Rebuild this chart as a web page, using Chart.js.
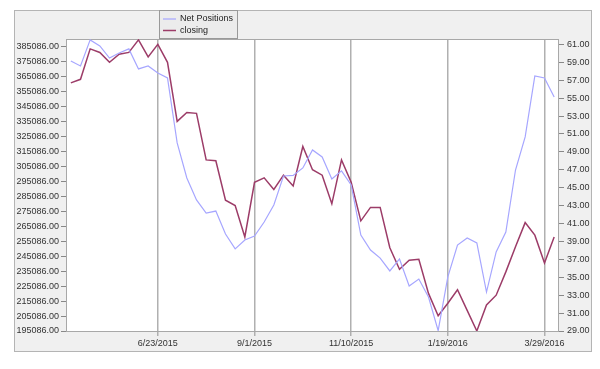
<!DOCTYPE html>
<html lang="en">
<head>
<meta charset="UTF-8">
<title>Net Positions vs closing</title>
<style>
  html, body { margin: 0; padding: 0; background: #fff; }
  #wrap { width: 600px; height: 369px; }
</style>
</head>
<body>
<div id="wrap"><canvas id="myChart" width="600" height="369"></canvas></div>
<script src="https://cdn.jsdelivr.net/npm/chart.js"></script>
<script>
// weekly dates (Tuesdays)
const weeks = [
  "4/21/2015","4/28/2015","5/5/2015","5/12/2015","5/19/2015","5/26/2015","6/2/2015","6/9/2015","6/16/2015","6/23/2015",
  "6/30/2015","7/7/2015","7/14/2015","7/21/2015","7/28/2015","8/4/2015","8/11/2015","8/18/2015","8/25/2015","9/1/2015",
  "9/8/2015","9/15/2015","9/22/2015","9/29/2015","10/6/2015","10/13/2015","10/20/2015","10/27/2015","11/3/2015","11/10/2015",
  "11/17/2015","11/24/2015","12/1/2015","12/8/2015","12/15/2015","12/22/2015","12/29/2015","1/5/2016","1/12/2016","1/19/2016",
  "1/26/2016","2/2/2016","2/9/2016","2/16/2016","2/23/2016","3/1/2016","3/8/2016","3/15/2016","3/22/2016","3/29/2016",
  "4/5/2016"
];

const netPositions = [
  375400, 372100, 389500, 385500, 377400, 380800, 383500, 370100, 372100, 367400,
  364100, 320700, 297300, 282600, 273900, 275200, 259900, 249900, 255900, 258500,
  267900, 279200, 298600, 299000, 304000, 316000, 311300, 296600, 302000, 292600,
  259200, 249200, 243800, 235200, 243200, 225100, 229800, 217800, 195300, 231200,
  252500, 257200, 253900, 221100, 247900, 261200, 302600, 324700, 365400, 364100,
  351400
];

const closing = [
  56.7, 57.1, 60.5, 60.1, 59.0, 59.9, 60.1, 61.5, 59.6, 61.0,
  59.0, 52.4, 53.4, 53.3, 48.1, 48.0, 43.6, 43.0, 39.5, 45.6,
  46.1, 44.8, 46.4, 45.2, 49.6, 47.0, 46.4, 43.2, 48.1, 45.6,
  41.3, 42.8, 42.8, 38.3, 35.9, 36.9, 37.0, 33.2, 30.7, 32.1,
  33.6, 31.3, 29.0, 31.9, 33.0, 35.6, 38.4, 41.1, 39.7, 36.6,
  39.5
];

const dateTicks = ["6/23/2015", "9/1/2015", "11/10/2015", "1/19/2016", "3/29/2016"];
const leftTicks = [195086, 205086, 215086, 225086, 235086, 245086, 255086, 265086, 275086, 285086,
  295086, 305086, 315086, 325086, 335086, 345086, 355086, 365086, 375086, 385086];
const rightTicks = [29, 31, 33, 35, 37, 39, 41, 43, 45, 47, 49, 51, 53, 55, 57, 59, 61];

Chart.defaults.font.family = '"Liberation Sans", Arial, sans-serif';
Chart.defaults.font.size = 9;
Chart.defaults.color = '#333';

// panel, plot frame and the little legend box
const framePlugin = {
  id: 'frame',
  beforeDraw(chart) {
    const c = chart.ctx, a = chart.chartArea;
    c.save();
    c.fillStyle = '#fff';
    c.fillRect(0, 0, chart.width, chart.height);
    c.fillStyle = '#f0f0f0';
    c.strokeStyle = '#b4b4b4';
    c.lineWidth = 1;
    c.fillRect(14.5, 10.5, 577, 341);
    c.strokeRect(14.5, 10.5, 577, 341);
    c.fillStyle = '#fff';
    c.fillRect(a.left, a.top, a.right - a.left, a.bottom - a.top);
    c.restore();
  },
  beforeDatasetsDraw(chart) {
    const c = chart.ctx, a = chart.chartArea;
    c.save();
    c.strokeStyle = '#a8a8a8';
    c.lineWidth = 1;
    c.strokeRect(a.left + 0.5, a.top + 0.5, a.right - a.left - 1, a.bottom - a.top);
    c.restore();
  },
  afterDraw(chart) {
    const c = chart.ctx;
    c.save();
    c.fillStyle = '#ececec';
    c.strokeStyle = '#999';
    c.lineWidth = 1;
    c.fillRect(159.5, 10.5, 78, 28);
    c.strokeRect(159.5, 10.5, 78, 28);
    c.font = '9px "Liberation Sans", Arial, sans-serif';
    c.textBaseline = 'middle';
    chart.data.datasets.forEach((ds, i) => {
      const y = 19 + i * 11.5;
      c.strokeStyle = ds.borderColor;
      c.lineWidth = ds.borderWidth;
      c.beginPath();
      c.moveTo(163, y);
      c.lineTo(176, y);
      c.stroke();
      c.fillStyle = '#222';
      c.fillText(ds.label, 180, y);
    });
    c.restore();
  }
};

const ctx = document.getElementById('myChart').getContext('2d');
new Chart(ctx, {
  type: 'line',
  data: {
    labels: weeks,
    datasets: [
      {
        label: 'Net Positions',
        data: netPositions,
        yAxisID: 'yLeft',
        borderColor: '#a6a6ff',
        borderWidth: 1.2,
        pointRadius: 0,
        tension: 0,
        fill: false
      },
      {
        label: 'closing',
        data: closing,
        yAxisID: 'yRight',
        borderColor: '#9c3c68',
        borderWidth: 1.5,
        pointRadius: 0,
        tension: 0,
        fill: false
      }
    ]
  },
  options: {
    responsive: false,
    animation: false,
    layout: { padding: { top: 39, left: 0, right: 0, bottom: 0 } },
    plugins: {
      legend: { display: false },
      tooltip: { enabled: false }
    },
    scales: {
      x: {
        type: 'category',
        offset: true,
        afterBuildTicks: s => { s.ticks = s.ticks.filter(t => dateTicks.includes(weeks[t.value])); },
        afterFit: s => { s.height = 38; },
        grid: { color: '#b0b0b0', lineWidth: 1.5, tickLength: 5, offset: false },
        border: { display: false },
        ticks: { autoSkip: false, maxRotation: 0, padding: 2, color: '#333' }
      },
      yLeft: {
        type: 'linear',
        position: 'left',
        min: 195086,
        max: 390100,
        afterBuildTicks: s => { s.ticks = leftTicks.map(v => ({ value: v })); },
        afterFit: s => { s.width = 66; },
        grid: { drawOnChartArea: false, tickLength: 5, color: '#888' },
        border: { display: false },
        ticks: { padding: 2, color: '#333', callback: v => v.toFixed(2) }
      },
      yRight: {
        type: 'linear',
        position: 'right',
        min: 29,
        max: 61.6,
        afterBuildTicks: s => { s.ticks = rightTicks.map(v => ({ value: v })); },
        afterFit: s => { s.width = 41; },
        grid: { drawOnChartArea: false, tickLength: 5, color: '#888' },
        border: { display: false },
        ticks: { padding: 3, color: '#333', callback: v => v.toFixed(2) }
      }
    }
  },
  plugins: [framePlugin]
});
</script>
</body>
</html>
